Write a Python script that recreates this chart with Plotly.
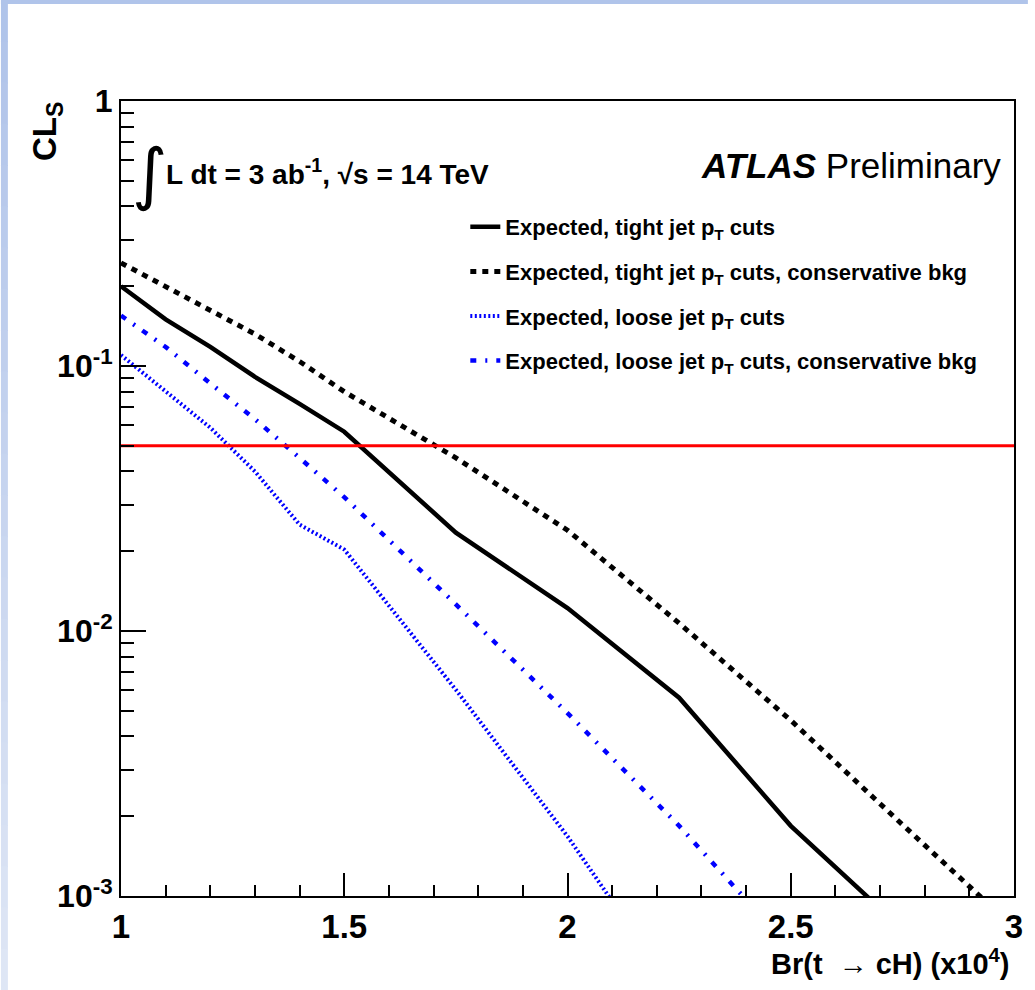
import plotly.graph_objects as go

# ---------------- data ----------------
br_x = [1.0, 1.1, 1.2, 1.3, 1.4, 1.5, 1.75, 2.0, 2.25, 2.5, 2.75, 3.0]
cls_tight = [0.2, 0.15, 0.118, 0.091, 0.072, 0.0565, 0.0235, 0.0122, 0.0056, 0.00184, 0.00075, 0.0003]
cls_tight_cons = [0.245, 0.2, 0.163, 0.132, 0.104, 0.08, 0.045, 0.024, 0.0107, 0.0046, 0.00186, 0.00076]
cls_loose = [0.11, 0.08, 0.0585, 0.04, 0.0252, 0.0203, 0.006, 0.00168, 0.0004, 0.0001, 0.00003, 0.00001]
cls_loose_cons = [0.155, 0.118, 0.086, 0.063, 0.045, 0.032, 0.0126, 0.0049, 0.00184, 0.00063, 0.0002, 0.00006]
cl95_level = 0.05
x_range = [1.0, 3.0]

series_names = [
    "Expected, tight jet p<sub>T</sub> cuts",
    "Expected, tight jet p<sub>T</sub> cuts, conservative bkg",
    "Expected, loose jet p<sub>T</sub> cuts",
    "Expected, loose jet p<sub>T</sub> cuts, conservative bkg",
]
y_tickvals = [1, 0.1, 0.01, 0.001]
y_ticktext = ["1", "10<sup>-1</sup>", "10<sup>-2</sup>", "10<sup>-3</sup>"]
x_tickvals = [1, 1.5, 2, 2.5, 3]
x_ticktext = ["1", "1.5", "2", "2.5", "3"]

# ---------------- layout helpers ----------------
WIDTH, HEIGHT = 1035, 990
L, R, T, B = 121, 1021, 101, 896
PW, PH = R - L, B - T


def px(x):
    return (x - L) / PW


def py(y):
    return (B - y) / PH


NARROW = "Liberation Sans Narrow, Arial Narrow, Liberation Sans, Arial, sans-serif"
SANS = "Liberation Sans, Arial, Helvetica, sans-serif"

fig = go.Figure()

styles = [
    dict(color="black", width=4.5, dash="solid"),
    dict(color="black", width=5, dash="6px,6px"),
    dict(color="#0000ff", width=4, dash="2px,2.5px"),
    dict(color="#0000ff", width=4.5, dash="6px,9px,2px,9px"),
]
for i, (name, ys, st) in enumerate(zip(series_names,
                                       [cls_tight, cls_tight_cons, cls_loose, cls_loose_cons], styles)):
    fig.add_trace(go.Scatter(x=br_x, y=ys, mode="lines", name=name, line=st, legendgroup=f"g{i}"))

fig.add_trace(go.Scatter(x=x_range, y=[cl95_level, cl95_level], mode="lines",
                         line=dict(color="#ff0000", width=3), showlegend=False, hoverinfo="skip"))

# slide-like light blue border
shapes = []
nseg = 24
for i in range(nseg):
    f = i / (nseg - 1)
    r = int(176 + (222 - 176) * f)
    g = int(196 + (230 - 196) * f)
    b = int(234 + (245 - 234) * f)
    y0 = HEIGHT * i / nseg
    y1 = HEIGHT * (i + 1) / nseg + 1
    shapes.append(dict(type="rect", xref="paper", yref="paper",
                       x0=px(0), x1=px(7), y0=py(y1), y1=py(y0),
                       fillcolor=f"rgb({r},{g},{b})", line=dict(width=0), layer="below"))
shapes.append(dict(type="rect", xref="paper", yref="paper",
                   x0=px(0), x1=px(WIDTH), y0=py(4), y1=py(0),
                   fillcolor="rgb(176,196,234)", line=dict(width=0), layer="below"))

annotations = [
    dict(text="∫", x=px(150), y=py(173), xref="paper", yref="paper", showarrow=False,
         xanchor="center", yanchor="middle", font=dict(family="DejaVu Sans", size=68, color="black")),
    dict(text="<b>L dt = 3 ab<sup>-1</sup>, √s = 14 TeV</b>", x=px(164), y=py(172), xref="paper", yref="paper",
         showarrow=False, xanchor="left", yanchor="middle", font=dict(family=NARROW, size=28, color="black")),
    dict(text="<b><i>ATLAS</i></b> Preliminary", x=px(1010), y=py(165), xref="paper", yref="paper",
         showarrow=False, xanchor="right", yanchor="middle", font=dict(family=SANS, size=35, color="black")),
    dict(text="<b>CL<sub>S</sub></b>", x=px(46), y=py(100), xref="paper", yref="paper", textangle=-90,
         showarrow=False, xanchor="center", yanchor="top", font=dict(family=NARROW, size=33, color="black")),
    dict(text="<b>Br(t  → cH) (x10<sup>4</sup>)</b>", x=px(1019), y=py(962), xref="paper", yref="paper",
         showarrow=False, xanchor="right", yanchor="middle", font=dict(family=NARROW, size=29, color="black")),
]

y_minor = [m * 10 ** d for d in (-3, -2, -1) for m in range(2, 10)]

fig.update_layout(
    width=WIDTH, height=HEIGHT,
    margin=dict(l=L, r=WIDTH - R, t=T, b=HEIGHT - B, pad=0),
    paper_bgcolor="white", plot_bgcolor="white",
    showlegend=True,
    legend=dict(x=px(468), y=py(206), xanchor="left", yanchor="top",
                bgcolor="rgba(0,0,0,0)", borderwidth=0,
                font=dict(family=NARROW, size=22, color="black", weight="bold"),
                tracegroupgap=13, itemwidth=30),
    shapes=shapes,
    annotations=annotations,
    xaxis=dict(range=x_range, showgrid=False, zeroline=False,
               showline=True, linecolor="black", linewidth=2, mirror=True,
               ticks="inside", ticklen=23, tickwidth=1.5, tickcolor="black",
               tickmode="array", tickvals=x_tickvals, ticktext=x_ticktext,
               tickfont=dict(family=NARROW, size=33, color="black", weight="bold"),
               minor=dict(ticks="inside", ticklen=11, tickwidth=1.5, tickcolor="black",
                          tickmode="linear", tick0=1, dtick=0.1, showgrid=False)),
    yaxis=dict(type="log", range=[-3, 0], showgrid=False, zeroline=False,
               showline=True, linecolor="black", linewidth=2, mirror=True,
               ticks="inside", ticklen=25, tickwidth=1.5, tickcolor="black",
               tickmode="array", tickvals=y_tickvals, ticktext=y_ticktext,
               tickfont=dict(family=NARROW, size=32, color="black", weight="bold"),
               minor=dict(ticks="inside", ticklen=13, tickwidth=1.5, tickcolor="black",
                          tickmode="array", tickvals=y_minor, showgrid=False)),
)

fig.write_html("out.html")
